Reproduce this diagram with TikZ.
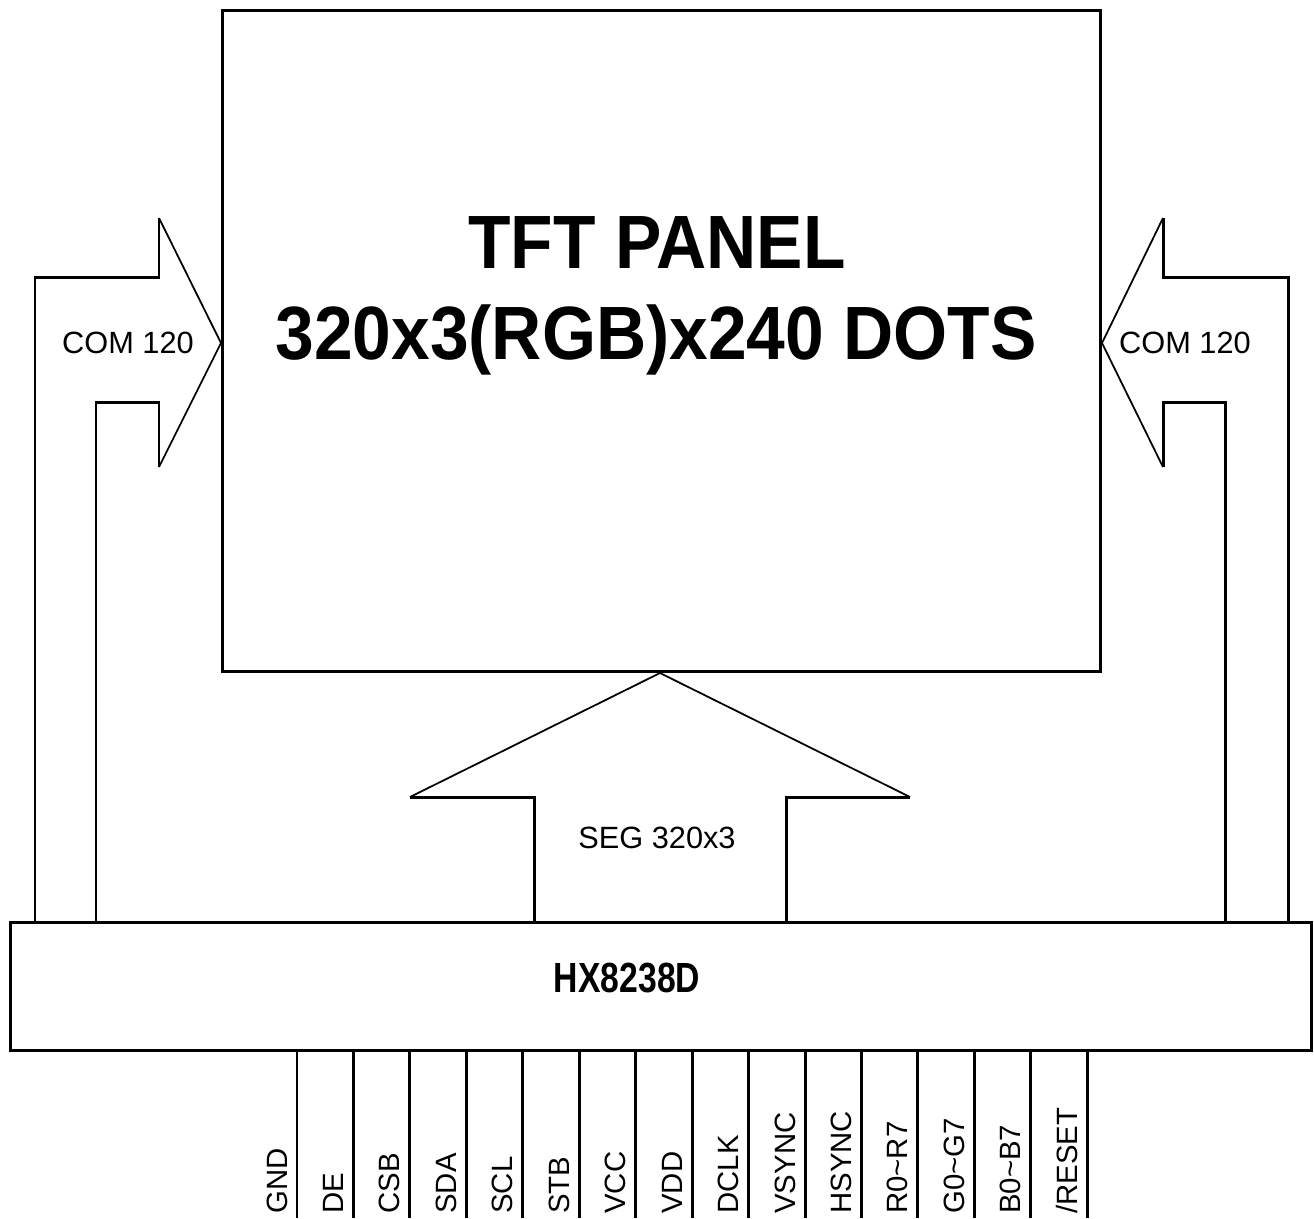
\documentclass[tikz,border=0pt]{standalone}
\usepackage{fontspec}
\setmainfont{Liberation Sans}
\usepackage{graphicx}
\usetikzlibrary{positioning,calc}

\begin{document}
\begin{tikzpicture}[
  x=0.02cm,y=-0.02cm,
  thick line/.style={line width=1.7pt},
  tip line/.style={line width=1pt},
  chip/.style={draw,line width=1.7pt,inner sep=0},
  sig/.style={font=\fontsize{17.5}{20}\selectfont},
  pin/.style={font=\fontsize{16.7}{18}\selectfont,rotate=90,anchor=base west,inner sep=0}
]
\useasboundingbox (0,0) rectangle (1314,1218);
% panel and driver
\node[chip,minimum width=17.58cm,minimum height=13.24cm] (panel) at (661.5,341) {};
\node[chip,minimum width=26.04cm,minimum height=2.56cm] (ic) at (661,986) {};
\node (t1) at (657,243) {\scalebox{0.92}[1]{\fontsize{43}{48}\selectfont\bfseries TFT PANEL}};
\node (t2) at (656,340) {\scalebox{0.92}[1]{\fontsize{43}{48}\selectfont\bfseries 320x3(RGB)x240 DOTS}};
\node (chipname) at (627,978) {\scalebox{0.8}[1]{\fontsize{24}{28}\selectfont\bfseries HX8238D}};
% COM arrows
\draw[thick line] (35,922) -- (35,277) -- (159,277) -- (159,218);
\draw[tip line] (159,218) -- (221,343) -- (159,467);
\draw[thick line] (159,467) -- (159,402) -- (96,402) -- (96,922);
\node[sig] (comL) at (128,343) {COM 120};
\draw[thick line] (1288,922) -- (1288,277) -- (1163,277) -- (1163,218);
\draw[tip line] (1163,218) -- (1102,343) -- (1163,467);
\draw[thick line] (1163,467) -- (1163,402) -- (1225,402) -- (1225,922);
\node[sig] (comR) at (1185,343) {COM 120};
% SEG arrow
\draw[thick line] (534,922) -- (534,797) -- (410,797);
\draw[tip line] (410,797) -- (660,673) -- (910,797);
\draw[thick line] (910,797) -- (786,797) -- (786,922);
\node[sig] (seg) at (657,838) {SEG 320x3};
% pins
\foreach \n/\s in {0/GND,1/DE,2/CSB,3/SDA,4/SCL,5/STB,6/VCC,7/VDD,8/DCLK,9/VSYNC,10/HSYNC,11/R0\char`~R7,12/G0\char`~G7,13/B0\char`~B7,14/{/RESET}}{
  \coordinate (p\n) at (297+56.45*\n,1218);
  \draw[thick line] (p\n |- ic.south) -- (p\n);
  \node[pin] (l\n) at ($(p\n)+(-10,-4)$) {\s};
}
\end{tikzpicture}
\end{document}
